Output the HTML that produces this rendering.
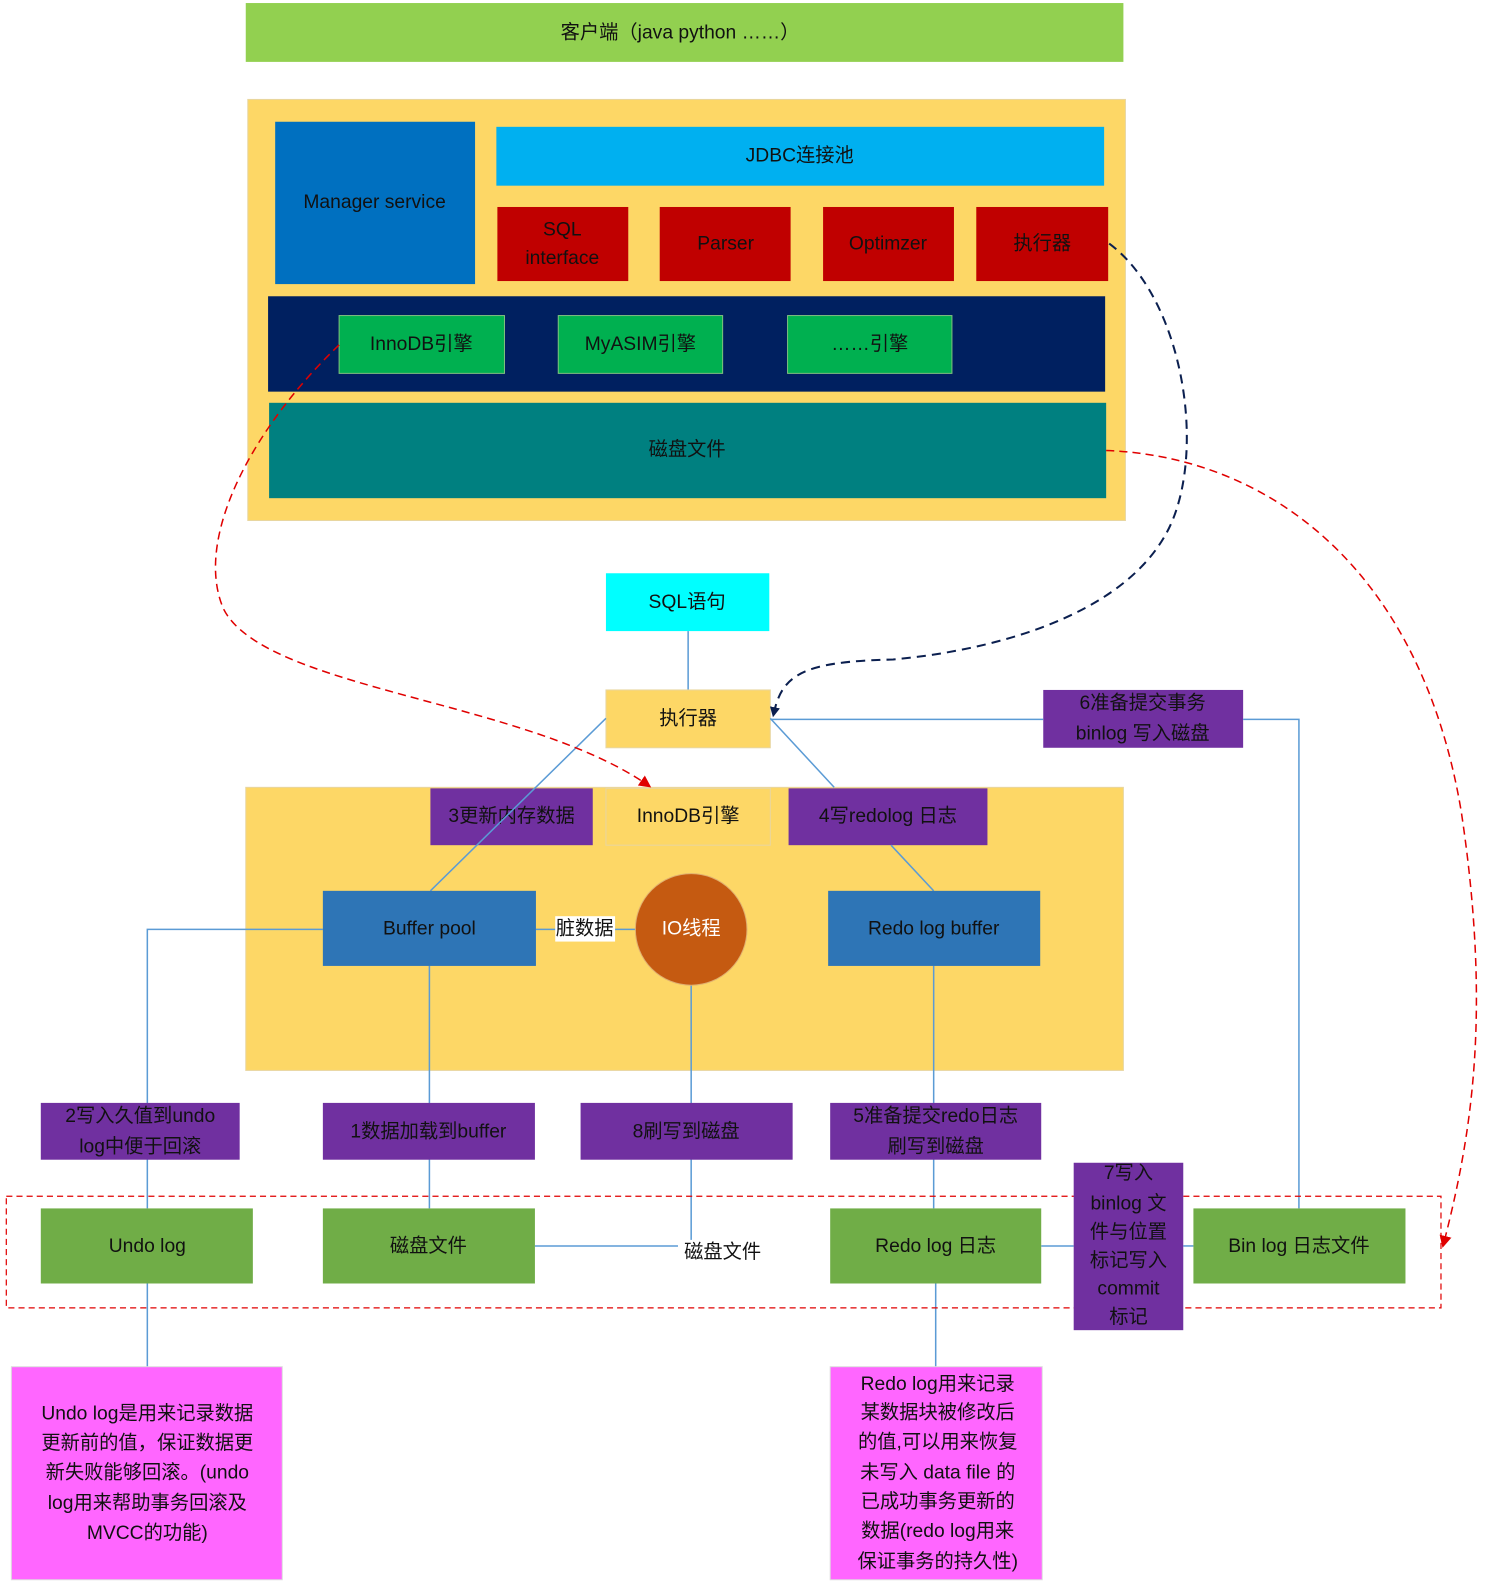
<!DOCTYPE html>
<html><head><meta charset="utf-8"><style>
html,body{margin:0;padding:0;background:#fff}
svg{display:block}
text{font-family:"Liberation Sans","Noto Sans CJK SC",sans-serif;font-size:19px;fill:#111;text-anchor:middle;dominant-baseline:middle}
</style></head><body>
<svg width="1497" height="1596" viewBox="0 0 1475 1573" xmlns="http://www.w3.org/2000/svg">
<defs>
<marker id="an" markerWidth="10" markerHeight="10" refX="8" refY="5" orient="auto" markerUnits="userSpaceOnUse"><path d="M0,0 L10,5 L0,10z" fill="#0b1f4f"/></marker>
<marker id="ar" markerWidth="12" markerHeight="12" refX="10" refY="6" orient="auto" markerUnits="userSpaceOnUse"><path d="M0,0 L12,6 L0,12z" fill="#e00000"/></marker>
</defs>
<!-- client -->
<rect x="242" y="3" width="865" height="58" fill="#92d050"/>
<text x="670" y="33">客户端（java python ……）</text>
<!-- server panel -->
<rect x="244" y="98" width="865" height="415" fill="#fdd766" stroke="#e8d6a0"/>
<rect x="271" y="120" width="197" height="160" fill="#0070c0"/>
<text x="369" y="200">Manager service</text>
<rect x="489" y="125" width="599" height="58" fill="#00b0f0"/>
<text x="788" y="154">JDBC连接池</text>
<g fill="#c00000">
<rect x="490" y="204" width="129" height="73"/><rect x="650" y="204" width="129" height="73"/>
<rect x="811" y="204" width="129" height="73"/><rect x="962" y="204" width="130" height="73"/></g>
<text x="554" y="227">SQL</text><text x="554" y="255">interface</text>
<text x="715" y="241">Parser</text><text x="875" y="241">Optimzer</text><text x="1027" y="241">执行器</text>
<rect x="264" y="292" width="825" height="94" fill="#002060"/>
<g fill="#00b050" stroke="#7fbf7f"><rect x="334" y="311" width="163" height="57"/><rect x="550" y="311" width="162" height="57"/><rect x="776" y="311" width="162" height="57"/></g>
<text x="415" y="340">InnoDB引擎</text><text x="631" y="340">MyASIM引擎</text><text x="857" y="340">……引擎</text>
<rect x="265" y="397" width="825" height="94" fill="#008080"/>
<text x="677" y="444">磁盘文件</text>
<!-- middle -->
<rect x="597" y="565" width="161" height="57" fill="#00ffff"/>
<text x="677" y="594">SQL语句</text>
<line x1="678" y1="622" x2="678" y2="680" stroke="#5b9bd5" stroke-width="1.5"/>
<rect x="242" y="776" width="865" height="279" fill="#fdd766" stroke="#e8d6a0"/>
<rect x="597" y="680" width="162" height="57" fill="#fdd766" stroke="#e8d6a0"/>
<text x="678" y="709">执行器</text>
<rect x="424" y="777" width="160" height="56" fill="#7030a0"/>
<text x="504" y="805">3更新内存数据</text>
<rect x="597" y="777" width="162" height="56" fill="#fdd766" stroke="#e8d6a0"/>
<text x="678" y="805">InnoDB引擎</text>
<rect x="777" y="777" width="196" height="56" fill="#7030a0"/>
<text x="875" y="805">4写redolog 日志</text>
<rect x="1028" y="680" width="197" height="57" fill="#7030a0"/>
<text x="1126" y="694">6准备提交事务</text><text x="1126" y="724">binlog 写入磁盘</text>
<g stroke="#5b9bd5" stroke-width="1.5" fill="none">
<line x1="597" y1="708" x2="424" y2="878"/>
<line x1="759" y1="708" x2="822" y2="776"/>
<line x1="878" y1="833" x2="920" y2="878"/>
<polyline points="759,709 1028,709"/>
<polyline points="1225,709 1280,709 1280,1191"/>
<polyline points="318,916 145,916 145,1191"/>
<line x1="423" y1="952" x2="423" y2="1191"/>
<line x1="528" y1="916" x2="626" y2="916"/>
<line x1="681" y1="970" x2="681" y2="1222"/>
<line x1="920" y1="952" x2="920" y2="1191"/>
<line x1="527" y1="1228" x2="668" y2="1228"/>
<line x1="1026" y1="1228" x2="1058" y2="1228"/>
<line x1="1166" y1="1228" x2="1176" y2="1228"/>
<line x1="145" y1="1265" x2="145" y2="1347"/>
<line x1="922" y1="1265" x2="922" y2="1347"/>
</g>
<rect x="318" y="878" width="210" height="74" fill="#2e75b6"/>
<text x="423" y="916">Buffer pool</text>
<rect x="547" y="903" width="59" height="25" fill="#fff"/>
<text x="576" y="916">脏数据</text>
<circle cx="681" cy="916" r="55" fill="#c55a11" stroke="#e0b070"/>
<text x="681" y="916" style="fill:#fff">IO线程</text>
<rect x="816" y="878" width="209" height="74" fill="#2e75b6"/>
<text x="920" y="916">Redo log buffer</text>
<!-- labels -->
<g fill="#7030a0"><rect x="40" y="1087" width="196" height="56"/><rect x="318" y="1087" width="209" height="56"/><rect x="572" y="1087" width="209" height="56"/><rect x="818" y="1087" width="208" height="56"/></g>
<text x="138" y="1101">2写入久值到undo</text><text x="138" y="1131">log中便于回滚</text>
<text x="422" y="1116">1数据加载到buffer</text>
<text x="676" y="1116">8刷写到磁盘</text>
<text x="922" y="1101">5准备提交redo日志</text><text x="922" y="1131">刷写到磁盘</text>
<rect x="6" y="1179" width="1414" height="110" fill="none" stroke="#e00000" stroke-dasharray="6,4" stroke-width="1.2"/>
<g fill="#70ad47"><rect x="40" y="1191" width="209" height="74"/><rect x="318" y="1191" width="209" height="74"/><rect x="818" y="1191" width="208" height="74"/><rect x="1176" y="1191" width="209" height="74"/></g>
<text x="145" y="1229">Undo log</text><text x="422" y="1229">磁盘文件</text>
<text x="922" y="1229">Redo log 日志</text><text x="1280" y="1229">Bin log 日志文件</text>
<text x="712" y="1235">磁盘文件</text>
<rect x="1058" y="1146" width="108" height="165" fill="#7030a0"/>
<text x="1112" y="1157">7写入</text><text x="1112" y="1187">binlog 文</text><text x="1112" y="1215">件与位置</text>
<text x="1112" y="1243">标记写入</text><text x="1112" y="1271">commit</text><text x="1112" y="1299">标记</text>
<rect x="11" y="1347" width="267" height="210" fill="#ff66ff" stroke="#ddd"/>
<g><text x="145" y="1394">Undo log是用来记录数据</text><text x="145" y="1423">更新前的值，保证数据更</text><text x="145" y="1452">新失败能够回滚。(undo</text><text x="145" y="1482">log用来帮助事务回滚及</text><text x="145" y="1512">MVCC的功能)</text></g>
<rect x="818" y="1347" width="209" height="210" fill="#ff66ff" stroke="#ddd"/>
<g><text x="924" y="1365">Redo log用来记录</text><text x="924" y="1393">某数据块被修改后</text><text x="924" y="1422">的值,可以用来恢复</text><text x="924" y="1452">未写入 data file 的</text><text x="924" y="1481">已成功事务更新的</text><text x="924" y="1510">数据(redo log用来</text><text x="924" y="1540">保证事务的持久性)</text></g>
<!-- dashed curves -->
<path d="M1093,240 C1160,290 1185,420 1160,500 C1130,600 990,640 880,650 C790,652 770,665 762,705" fill="none" stroke="#0b1f4f" stroke-width="2" stroke-dasharray="9,6" marker-end="url(#an)"/>
<path d="M334,340 C250,420 190,530 220,600 C260,680 520,690 640,775" fill="none" stroke="#e00000" stroke-width="1.5" stroke-dasharray="8,5" marker-end="url(#ar)"/>
<path d="M1090,444 C1250,450 1400,560 1440,800 C1470,1000 1450,1120 1422,1228" fill="none" stroke="#e00000" stroke-width="1.5" stroke-dasharray="8,5" marker-end="url(#ar)"/>
</svg>
</body></html>
